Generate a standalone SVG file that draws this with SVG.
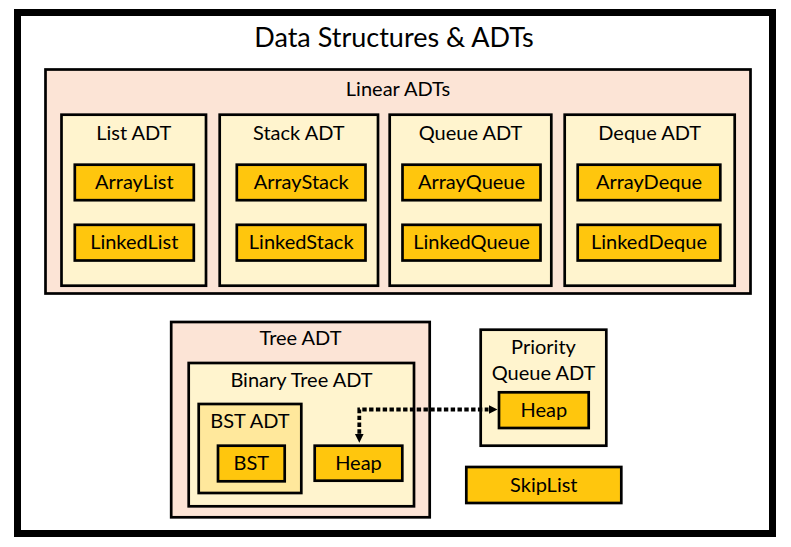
<svg xmlns="http://www.w3.org/2000/svg" width="791" height="547" viewBox="0 0 791 547">
<style>
text{font-family:Lato,"Noto Sans",sans-serif;font-size:20px;fill:#000;text-anchor:middle}
.title{font-size:27px}
.box{stroke:#000;stroke-width:2.7}
.peach{fill:#FCE4D6}
.cream{fill:#FFF4CE}
.mid{fill:#FFE89C}
.gold{fill:#FFC60D}
.conn{fill:none;stroke:#000;stroke-width:3.8;stroke-dasharray:4.4 2.4}
</style>
<defs>
<marker id="arr" viewBox="0 0 10 10" refX="0" refY="5" markerWidth="9" markerHeight="10" markerUnits="userSpaceOnUse" orient="auto-start-reverse">
<path d="M0,0 L10,5 L0,10 z" fill="#000"/>
</marker>
</defs>
<rect width="791" height="547" fill="#fff"/>
<g id="frame">
<rect x="17.5" y="12.5" width="755" height="521" fill="#fff" stroke="#000" stroke-width="7"/>
<text class="title" x="394" y="46.7">Data Structures &amp; ADTs</text>
</g>
<g id="linear">
<rect class="box peach" x="45.5" y="69.5" width="705" height="224"/>
<text x="398" y="96">Linear ADTs</text>
</g>
<g id="list-adt">
<rect class="box cream" x="61.5" y="114.7" width="144.5" height="171"/>
<text x="133.8" y="140">List ADT</text>
</g>
<g id="arraylist">
<rect class="box gold" x="74.8" y="164.7" width="119" height="35.5"/>
<text x="134.3" y="189">ArrayList</text>
</g>
<g id="linkedlist">
<rect class="box gold" x="74.8" y="224.8" width="119" height="35.7"/>
<text x="134.3" y="249.3">LinkedList</text>
</g>
<g id="stack-adt">
<rect class="box cream" x="219.7" y="114.7" width="158.3" height="171"/>
<text x="298.8" y="140">Stack ADT</text>
</g>
<g id="arraystack">
<rect class="box gold" x="236.8" y="164.7" width="128.7" height="35.5"/>
<text x="301.2" y="189">ArrayStack</text>
</g>
<g id="linkedstack">
<rect class="box gold" x="236.8" y="224.8" width="128.7" height="35.7"/>
<text x="301.2" y="249.3">LinkedStack</text>
</g>
<g id="queue-adt">
<rect class="box cream" x="389.7" y="114.7" width="161.6" height="171"/>
<text x="470.5" y="140">Queue ADT</text>
</g>
<g id="arrayqueue">
<rect class="box gold" x="402.5" y="164.7" width="138" height="35.5"/>
<text x="471.5" y="189">ArrayQueue</text>
</g>
<g id="linkedqueue">
<rect class="box gold" x="402.5" y="224.8" width="138" height="35.7"/>
<text x="471.5" y="249.3">LinkedQueue</text>
</g>
<g id="deque-adt">
<rect class="box cream" x="564.7" y="114.7" width="170" height="171"/>
<text x="649.7" y="140">Deque ADT</text>
</g>
<g id="arraydeque">
<rect class="box gold" x="577.7" y="164.7" width="142.6" height="35.5"/>
<text x="649" y="189">ArrayDeque</text>
</g>
<g id="linkeddeque">
<rect class="box gold" x="577.7" y="224.8" width="142.6" height="35.7"/>
<text x="649" y="249.3">LinkedDeque</text>
</g>
<g id="tree-adt">
<rect class="box peach" x="171.2" y="322" width="258.5" height="195.3"/>
<text x="300.5" y="345">Tree ADT</text>
</g>
<g id="binary-tree-adt">
<rect class="box cream" x="188.7" y="363" width="225.3" height="143.3"/>
<text x="301.5" y="387.3">Binary Tree ADT</text>
</g>
<g id="bst-adt">
<rect class="box mid" x="198.7" y="404" width="102.6" height="89"/>
<text x="250" y="428.3">BST ADT</text>
</g>
<g id="bst">
<rect class="box gold" x="218" y="445.7" width="66.7" height="35.6"/>
<text x="251.3" y="470">BST</text>
</g>
<g id="heap-tree">
<rect class="box gold" x="314.7" y="445.7" width="87.6" height="35"/>
<text x="358.5" y="470">Heap</text>
</g>
<g id="pq-adt">
<rect class="box cream" x="480.7" y="329.7" width="125.6" height="116"/>
<text x="543.5" y="354.3">Priority</text>
<text x="543.5" y="380">Queue ADT</text>
</g>
<g id="heap-pq">
<rect class="box gold" x="499" y="392.3" width="89.7" height="35.7"/>
<text x="543.8" y="417.3">Heap</text>
</g>
<g id="skiplist">
<rect class="box gold" x="466.3" y="467" width="155" height="36"/>
<text x="543.8" y="491.7">SkipList</text>
</g>
<g id="connectors">
<path class="conn" d="M359.3,433.7 L359.3,409.5 L488.5,409.5" marker-start="url(#arr)" marker-end="url(#arr)"/>
</g>
</svg>
